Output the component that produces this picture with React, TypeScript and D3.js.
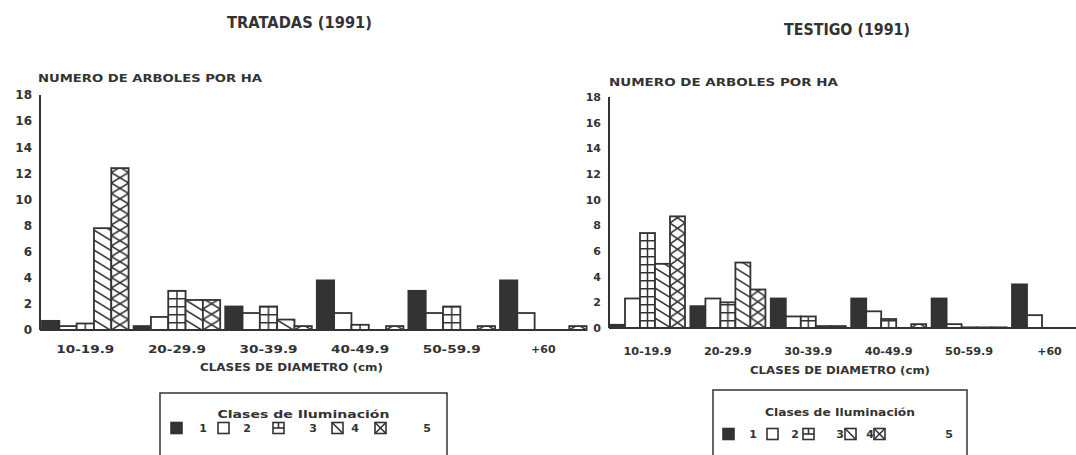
import React from "react";
import * as d3 from "d3";

const categories = ["10-19.9", "20-29.9", "30-39.9", "40-49.9", "50-59.9", "+60"];
const classes = ["1", "2", "3", "4", "5"];
const yTicks = [0, 2, 4, 6, 8, 10, 12, 14, 16, 18];

// values per diameter class, one entry per illumination class 1..5
const tratadas = [
  [0.7, 0.3, 0.5, 7.8, 12.4],
  [0.3, 1.0, 3.0, 2.3, 2.3],
  [1.8, 1.3, 1.8, 0.8, 0.3],
  [3.8, 1.3, 0.4, 0, 0.3],
  [3.0, 1.3, 1.8, 0, 0.3],
  [3.8, 1.3, 0, 0, 0.3],
];
const testigo = [
  [0.25, 2.3, 7.4, 5.0, 8.7],
  [1.7, 2.3, 2.0, 5.1, 3.0],
  [2.3, 0.9, 0.9, 0.15, 0.15],
  [2.3, 1.3, 0.7, 0, 0.3],
  [2.3, 0.3, 0.05, 0.05, 0.05],
  [3.4, 1.0, 0, 0, 0],
];

const INK = "#333";
const FONT = "'DejaVu Sans', 'Liberation Sans', Arial, sans-serif";

type Cfg = {
  id: string;
  data: number[][];
  title: string;
  titleX: number;
  titleY: number;
  titleW: number;
  axisX: number;
  y0: number;
  y18: number;
  bandStart: number;
  step: number;
  gap: number;
  lineEnd: number;
  yTitleX: number;
  yTitleY: number;
  yTitleW: number;
  xLabelY: number;
  xLabelW: number;
  xTitleX: number;
  xTitleY: number;
  xTitleW: number;
  tickFont: number;
  legend: { x: number; y: number; w: number; titleY: number; titleW: number; rowY: number; sw: number[]; lab: number[]; size: number };
};

function Swatch({ k, x, y, s }: { k: number; x: number; y: number; s: number }) {
  const common = { stroke: INK, strokeWidth: 1.6 };
  return (
    <g>
      <rect x={x} y={y} width={s} height={s} fill={k === 0 ? INK : "#fff"} {...common} />
      {k === 2 && <line x1={x} x2={x + s} y1={y + s / 2} y2={y + s / 2} {...common} />}
      {k === 2 && <line x1={x + s / 2} x2={x + s / 2} y1={y} y2={y + s / 2} {...common} />}
      {k === 3 && <line x1={x} x2={x + s} y1={y} y2={y + s} {...common} />}
      {k === 4 && <line x1={x} x2={x + s} y1={y} y2={y + s} {...common} />}
      {k === 4 && <line x1={x + s} x2={x} y1={y} y2={y + s} {...common} />}
    </g>
  );
}

function Chart({ c }: { c: Cfg }) {
  const y = d3.scaleLinear().domain([0, 18]).range([c.y0, c.y18]);
  const x0 = d3
    .scaleBand()
    .domain(categories)
    .range([c.bandStart, c.bandStart + c.step * 6 - c.gap])
    .paddingInner(c.gap / c.step)
    .paddingOuter(0);
  const x1 = d3.scaleBand().domain(classes).range([0, x0.bandwidth()]).padding(0);
  const bw = x1.bandwidth();
  const defs: React.ReactNode[] = [];
  const bars: React.ReactNode[] = [];
  c.data.forEach((vals, gi) => {
    const cat = categories[gi];
    vals.forEach((v, k) => {
      if (v <= 0) return;
      const bx = (x0(cat) as number) + (x1(classes[k]) as number);
      const top = y(v);
      const pid = `p-${c.id}-${gi}-${k}`;
      let fill = "#fff";
      if (k === 0) fill = INK;
      if (k >= 2) {
        fill = `url(#${pid})`;
        const ph = k === 2 ? 8 : k === 3 ? 10 : 10.5;
        let content: React.ReactNode = null;
        if (k === 2) {
          content = (
            <g stroke={INK} strokeWidth={1.5}>
              <line x1={0} x2={bw} y1={0.75} y2={0.75} />
              <line x1={bw / 2} x2={bw / 2} y1={0} y2={ph} />
            </g>
          );
        } else if (k === 3) {
          const dy = bw * 0.62;
          content = (
            <g stroke={INK} strokeWidth={1.5}>
              {[-2, -1, 0, 1].map((i) => (
                <line key={i} x1={0} x2={bw} y1={i * ph} y2={i * ph + dy} />
              ))}
            </g>
          );
        } else {
          content = (
            <g stroke={INK} strokeWidth={1.6}>
              <line x1={0} x2={bw} y1={0} y2={ph} />
              <line x1={bw} x2={0} y1={0} y2={ph} />
            </g>
          );
        }
        defs.push(
          <pattern key={pid} id={pid} patternUnits="userSpaceOnUse" x={bx} y={c.y0} width={bw} height={ph}>
            <rect width={bw} height={ph} fill="#fff" />
            {content}
          </pattern>
        );
      }
      bars.push(
        <rect key={pid} x={bx} y={top} width={bw} height={c.y0 - top} fill={fill} stroke={INK} strokeWidth={1.8} />
      );
    });
  });
  const L = c.legend;
  return (
    <g fontFamily={FONT} fontWeight="bold" fill={INK}>
      <defs>{defs}</defs>
      <text x={c.titleX} y={c.titleY} fontSize={15} textLength={c.titleW} lengthAdjust="spacingAndGlyphs">
        {c.title}
      </text>
      <text x={c.yTitleX} y={c.yTitleY} fontSize={11} textLength={c.yTitleW} lengthAdjust="spacingAndGlyphs">
        NUMERO DE ARBOLES POR HA
      </text>
      {yTicks.map((t) => (
        <text key={t} x={c.axisX - 8} y={y(t)} dy="0.36em" textAnchor="end" fontSize={c.tickFont}>
          {t}
        </text>
      ))}
      {bars}
      <line x1={c.axisX} x2={c.axisX} y1={c.y18} y2={c.y0} stroke={INK} strokeWidth={2} />
      <line x1={c.axisX} x2={c.lineEnd} y1={c.y0} y2={c.y0} stroke={INK} strokeWidth={2} />
      {categories.map((cat) => (
        <text
          key={cat}
          x={(x0(cat) as number) + x0.bandwidth() / 2 - (cat === "+60" ? 0 : c.xLabelW / 2)}
          y={c.xLabelY}
          textAnchor={cat === "+60" ? "middle" : "start"}
          fontSize={11}
          textLength={cat === "+60" ? undefined : c.xLabelW}
          lengthAdjust="spacingAndGlyphs"
        >
          {cat}
        </text>
      ))}
      <text x={c.xTitleX} y={c.xTitleY} fontSize={11} textLength={c.xTitleW} lengthAdjust="spacingAndGlyphs">
        CLASES DE DIAMETRO (cm)
      </text>
      <rect x={L.x} y={L.y} width={L.w} height={120} fill="none" stroke={INK} strokeWidth={1.5} />
      <text
        x={L.x + L.w / 2 - L.titleW / 2}
        y={L.titleY}
        fontSize={11}
        textLength={L.titleW}
        lengthAdjust="spacingAndGlyphs"
      >
        Clases de Iluminación
      </text>
      {classes.map((cl, k) => (
        <g key={cl}>
          <Swatch k={k} x={L.sw[k]} y={L.rowY - L.size / 2} s={L.size} />
          <text x={L.lab[k]} y={L.rowY} dy="0.36em" textAnchor="middle" fontSize={11}>
            {cl}
          </text>
        </g>
      ))}
    </g>
  );
}

const left: Cfg = {
  id: "l",
  data: tratadas,
  title: "TRATADAS (1991)",
  titleX: 227,
  titleY: 28,
  titleW: 145,
  axisX: 40,
  y0: 330,
  y18: 95,
  bandStart: 42,
  step: 91.6,
  gap: 5,
  lineEnd: 586,
  yTitleX: 38,
  yTitleY: 82,
  yTitleW: 224,
  xLabelY: 353,
  xLabelW: 58,
  xTitleX: 200,
  xTitleY: 371,
  xTitleW: 183,
  tickFont: 12,
  legend: { x: 160, y: 393, w: 287, titleY: 418, titleW: 172, rowY: 428, sw: [171, 218, 273, 332, 375], lab: [203, 247, 313, 355, 427], size: 11 },
};

const right: Cfg = {
  id: "r",
  data: testigo,
  title: "TESTIGO (1991)",
  titleX: 784,
  titleY: 35,
  titleW: 126,
  axisX: 609,
  y0: 328,
  y18: 97,
  bandStart: 610,
  step: 80.4,
  gap: 5.4,
  lineEnd: 1076,
  yTitleX: 609,
  yTitleY: 86,
  yTitleW: 229,
  xLabelY: 355,
  xLabelW: 48,
  xTitleX: 750,
  xTitleY: 374,
  xTitleW: 180,
  tickFont: 11,
  legend: { x: 713, y: 390, w: 254, titleY: 416, titleW: 150, rowY: 434, sw: [723, 767, 803, 845, 874], lab: [753, 795, 840, 870, 949], size: 11 },
};

export default function App() {
  return (
    <svg
      width={1076}
      height={455}
      style={{ position: "absolute", left: 0, top: 0, background: "#fff" }}
    >
      <rect width={1076} height={455} fill="#fff" />
      <Chart c={left} />
      <Chart c={right} />
    </svg>
  );
}
